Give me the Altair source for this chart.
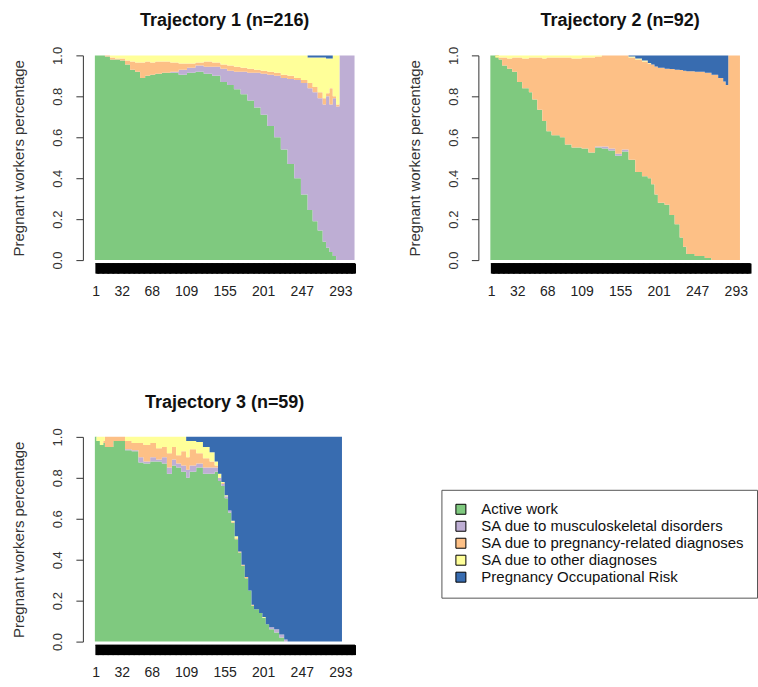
import altair as alt
import pandas as pd

STATES = [
    "Active work",
    "SA due to musculoskeletal disorders",
    "SA due to pregnancy-related diagnoses",
    "SA due to other diagnoses",
    "Pregnancy Occupational Risk",
]
COLORS = ["#7FC97F", "#BEAED4", "#FDC086", "#FFFF99", "#386CB0"]
X_LABELS = [1, 32, 68, 109, 155, 201, 247, 293]
Y_TICKS = [0.0, 0.2, 0.4, 0.6, 0.8, 1.0]

# Cumulative upper boundary of each state (share of workers).
# active = Active work; msk = + musculoskeletal; preg = + pregnancy-related; other = + other diagnoses
# (Pregnancy Occupational Risk fills the rest up to 1.0)

# Trajectory 1 (n=216)
t1_day = [0, 6, 12, 18, 24, 30, 36, 42, 48, 54, 60, 66, 72, 80, 90, 100, 110, 120, 130, 140,
          150, 158, 166, 174, 182, 190, 198, 206, 214, 222, 230, 238, 246, 254, 260, 266, 272, 276,
          280, 284, 288, 292, 310]
t1_active = [1.0, 1.0, 0.995, 0.98, 0.98, 0.975, 0.955, 0.93, 0.92, 0.89, 0.90, 0.905, 0.91, 0.915,
             0.915, 0.905, 0.915, 0.92, 0.91, 0.90, 0.87, 0.855, 0.835, 0.81, 0.78, 0.745, 0.71,
             0.655, 0.60, 0.54, 0.47, 0.40, 0.32, 0.245, 0.19, 0.145, 0.09, 0.06, 0.04, 0.02, 0.0,
             0.0, 0.0]
t1_msk = [1.0, 1.0, 0.995, 0.98, 0.98, 0.975, 0.955, 0.93, 0.92, 0.89, 0.90, 0.905, 0.91, 0.915,
          0.92, 0.93, 0.94, 0.95, 0.945, 0.945, 0.935, 0.925, 0.92, 0.92, 0.915, 0.915, 0.91, 0.905,
          0.90, 0.89, 0.885, 0.88, 0.865, 0.84, 0.82, 0.79, 0.76, 0.80, 0.76, 0.79, 0.75, 1.0, 1.0]
t1_preg = [1.0, 1.0, 1.0, 0.99, 0.985, 0.985, 0.975, 0.97, 0.965, 0.965, 0.97, 0.965, 0.97, 0.97,
           0.965, 0.96, 0.96, 0.965, 0.97, 0.965, 0.955, 0.95, 0.945, 0.94, 0.935, 0.93, 0.925,
           0.92, 0.915, 0.905, 0.90, 0.89, 0.88, 0.865, 0.845, 0.82, 0.79, 0.815, 0.84, 0.80, 0.76,
           1.0, 1.0]
t1_other = [1.0] * 33 + [0.99, 0.99, 0.99, 0.99, 0.985, 0.985, 1.0, 1.0, 1.0, 1.0]

# Trajectory 2 (n=92)
t2_day = [0, 6, 10, 14, 20, 26, 32, 38, 46, 50, 56, 62, 67, 73, 83, 89, 97, 109, 117, 125,
          133, 141, 149, 157, 165, 173, 181, 188, 192, 196, 200, 208, 214, 220, 226, 230, 234, 244,
          256, 264, 272, 278, 281, 284, 298]
t2_active = [1.0, 1.0, 0.98, 0.95, 0.935, 0.92, 0.87, 0.84, 0.82, 0.785, 0.735, 0.68, 0.63, 0.61,
             0.60, 0.565, 0.55, 0.545, 0.525, 0.55, 0.545, 0.535, 0.51, 0.53, 0.49, 0.43, 0.41,
             0.40, 0.37, 0.32, 0.28, 0.27, 0.22, 0.175, 0.11, 0.065, 0.03, 0.02, 0.01, 0.0, 0.0,
             0.0, 0.0, 0.0, 0.0]
t2_msk = [1.0, 1.0, 0.98, 0.95, 0.935, 0.92, 0.87, 0.84, 0.82, 0.785, 0.735, 0.68, 0.63, 0.61,
          0.60, 0.565, 0.55, 0.545, 0.525, 0.555, 0.555, 0.545, 0.52, 0.54, 0.49, 0.43, 0.41,
          0.40, 0.37, 0.32, 0.28, 0.27, 0.22, 0.175, 0.11, 0.065, 0.03, 0.02, 0.01, 0.0, 0.0,
          0.0, 0.0, 0.0, 0.0]
t2_preg = [1.0, 0.99, 0.99, 0.99, 0.985, 0.99, 0.99, 0.985, 0.99, 0.99, 0.99, 0.985, 0.99, 0.99,
           0.99, 0.99, 0.985, 0.99, 0.99, 0.995, 1.0, 1.0, 1.0, 1.0, 0.99, 0.98, 0.97, 0.96,
           0.955, 0.946, 0.94, 0.935, 0.933, 0.93, 0.928, 0.925, 0.923, 0.92, 0.915, 0.905, 0.89,
           0.873, 0.855, 1.0, 1.0]
t2_other = [1.0] * 24 + [0.995, 0.985, 0.975, 0.963, 0.955, 0.946, 0.94, 0.935, 0.933, 0.93,
                         0.928, 0.925, 0.923, 0.92, 0.915, 0.905, 0.89, 0.873, 0.855, 1.0, 1.0]

# Trajectory 3 (n=59)
t3_day = [0, 2, 6, 10, 12, 18, 22, 30, 36, 44, 52, 58, 66, 73, 80, 86, 92, 97, 103, 109,
          113, 121, 129, 137, 143, 147, 151, 155, 159, 163, 167, 171, 175, 179, 183, 187, 190, 196,
          200, 204, 208, 214, 220, 226, 230, 295]
t3_active = [1.0, 0.98, 0.96, 0.97, 0.95, 0.95, 0.98, 0.98, 0.935, 0.93, 0.875, 0.87, 0.88, 0.88,
             0.87, 0.82, 0.86, 0.85, 0.83, 0.80, 0.83, 0.85, 0.82, 0.82, 0.83, 0.785, 0.76, 0.70,
             0.63, 0.58, 0.50, 0.435, 0.37, 0.31, 0.25, 0.175, 0.158, 0.14, 0.117, 0.085, 0.06,
             0.044, 0.02, 0.0, 0.0, 0.0]
t3_msk = [1.0, 0.98, 0.96, 0.97, 0.95, 0.95, 0.98, 0.98, 0.94, 0.935, 0.90, 0.88, 0.90, 0.89,
          0.90, 0.85, 0.89, 0.87, 0.86, 0.84, 0.86, 0.87, 0.85, 0.85, 0.85, 0.80, 0.77, 0.71, 0.64,
          0.58, 0.50, 0.435, 0.37, 0.31, 0.25, 0.175, 0.158, 0.14, 0.117, 0.085, 0.07, 0.06, 0.035,
          0.01, 0.0, 0.0]
t3_preg = [1.0, 0.98, 0.96, 0.98, 1.0, 1.0, 1.0, 1.0, 0.98, 0.97, 0.97, 0.96, 0.97, 0.945, 0.95,
           0.92, 0.95, 0.91, 0.93, 0.90, 0.94, 0.92, 0.895, 0.88, 0.86, 0.80, 0.775, 0.71, 0.64,
           0.585, 0.505, 0.44, 0.375, 0.315, 0.25, 0.18, 0.158, 0.14, 0.117, 0.085, 0.07, 0.06,
           0.035, 0.01, 0.0, 0.0]
t3_other = [1.0] * 19 + [0.98, 0.98, 0.975, 0.95, 0.925, 0.88, 0.82, 0.78, 0.715, 0.64, 0.59,
                         0.515, 0.44, 0.375, 0.315, 0.25, 0.18, 0.158, 0.14, 0.12, 0.085, 0.07,
                         0.06, 0.035, 0.01, 0.0, 0.0]

FONT = "Liberation Sans"
X_MAX = 310
label_list = ",".join(str(v) for v in X_LABELS)
X_LABEL_EXPR = f"indexof([{label_list}], datum.value) >= 0 ? datum.label : ''"


def to_long(days, active, msk, preg, other):
    rows = []
    for i, d in enumerate(days):
        bounds = [0.0, active[i], msk[i], preg[i], other[i], 1.0]
        for k, s in enumerate(STATES):
            rows.append({"day": d, "state": s, "lo": bounds[k], "hi": bounds[k + 1], "k": k})
    return pd.DataFrame(rows)


def panel(df, title):
    return (
        alt.Chart(df)
        .mark_area(interpolate="step-after", opacity=1, strokeWidth=0)
        .encode(
            x=alt.X(
                "day:Q",
                title=None,
                scale=alt.Scale(domain=[0, X_MAX], nice=False, zero=False),
                axis=alt.Axis(
                    values=list(range(1, X_MAX + 1)),
                    labelExpr=X_LABEL_EXPR,
                    labelOverlap=False,
                    labelFlush=False,
                    labelBound=False,
                    tickSize=10,
                    tickWidth=2,
                    tickColor="black",
                    domainColor="black",
                    domainWidth=1,
                    offset=3,
                    grid=False,
                    labelFont=FONT,
                    labelFontSize=14,
                    labelColor="#222",
                    labelPadding=11,
                ),
            ),
            y=alt.Y(
                "lo:Q",
                stack=False,
                scale=alt.Scale(domain=[0, 1], nice=False),
                axis=alt.Axis(
                    values=Y_TICKS,
                    format=".1f",
                    labelAngle=270,
                    tickSize=7,
                    tickColor="#333",
                    domainColor="#333",
                    offset=12,
                    grid=False,
                    labelFont=FONT,
                    labelFontSize=13,
                    labelColor="#333",
                    labelPadding=11,
                    title="Pregnant workers percentage",
                    titleFont=FONT,
                    titleFontSize=15,
                    titleFontWeight="normal",
                    titleColor="#333",
                    titlePadding=25,
                ),
            ),
            y2="hi:Q",
            color=alt.Color(
                "state:N",
                scale=alt.Scale(domain=STATES, range=COLORS),
                legend=alt.Legend(
                    title=None,
                    orient="none",
                    legendX=347,
                    legendY=435,
                    symbolType="square",
                    symbolSize=100,
                    symbolStrokeColor="black",
                    symbolStrokeWidth=1,
                    symbolOpacity=1,
                    labelFont=FONT,
                    labelFontSize=15,
                    labelColor="#111",
                    labelOffset=13,
                    labelLimit=400,
                    rowPadding=1,
                    padding=12,
                    strokeColor="#555",
                    fillColor="white",
                ),
            ),
            order=alt.Order("k:Q"),
        )
        .properties(
            width=260,
            height=205,
            title=alt.TitleParams(
                title, font=FONT, fontSize=18, fontWeight="bold", color="#111", offset=16
            ),
        )
    )


p1 = panel(to_long(t1_day, t1_active, t1_msk, t1_preg, t1_other), "Trajectory 1 (n=216)")
p2 = panel(to_long(t2_day, t2_active, t2_msk, t2_preg, t2_other), "Trajectory 2 (n=92)")
p3 = panel(to_long(t3_day, t3_active, t3_msk, t3_preg, t3_other), "Trajectory 3 (n=59)")

chart = (
    alt.vconcat(alt.hconcat(p1, p2, spacing=52), p3, spacing=95)
    .properties(padding={"left": 12, "top": 11, "right": 0, "bottom": 0})
    .configure_view(strokeWidth=0)
)

chart.save("out.html", embed_options={"renderer": "svg", "actions": False})
